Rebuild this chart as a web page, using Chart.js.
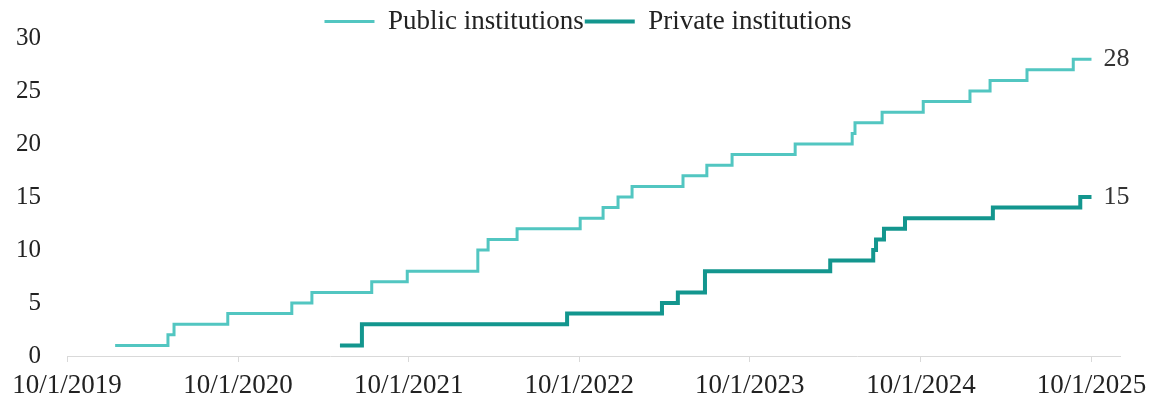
<!DOCTYPE html>
<html>
<head>
<meta charset="utf-8">
<script src="https://cdn.jsdelivr.net/npm/chart.js@4/dist/chart.umd.min.js"></script>
<style>
    html, body { margin: 0; padding: 0; background: #fff; }
    #wrap { width: 1153px; height: 402px; }
</style>
</head>
<body>
<div id="wrap"><canvas id="institutionsChart" width="1153" height="402"></canvas></div>
<script>
// Cumulative counts: each date is when the count steps up to the matching value
const publicDates = ['2020-01-12', '2020-05-04', '2020-05-17', '2020-09-09', '2021-01-24', '2021-03-08',
    '2021-07-14', '2021-09-28', '2022-02-26', '2022-03-20', '2022-05-21', '2022-10-03', '2022-11-21',
    '2022-12-23', '2023-01-22', '2023-05-11', '2023-07-01', '2023-08-24', '2024-01-06', '2024-05-07',
    '2024-05-13', '2024-07-10', '2024-10-06', '2025-01-14', '2025-02-26', '2025-05-16', '2025-08-23',
    '2025-10-01'];
const publicCounts = [1, 2, 3, 4, 5, 6, 7, 8, 10, 11, 12, 13, 14, 15, 16, 17, 18, 19, 20, 21, 22, 23, 24,
    25, 26, 27, 28, 28];

const privateDates = ['2021-05-07', '2021-06-23', '2022-09-05', '2023-03-27', '2023-04-30', '2023-06-27',
    '2024-03-21', '2024-06-21', '2024-06-27', '2024-07-14', '2024-08-28', '2025-03-04', '2025-09-07',
    '2025-10-01'];
const privateCounts = [1, 3, 4, 5, 6, 8, 9, 10, 11, 12, 13, 14, 15, 15];

const tickDates = ['2019-10-01', '2020-10-01', '2021-10-01', '2022-10-01', '2023-10-01', '2024-10-01', '2025-10-01'];
const seriesNames = ['Public institutions', 'Private institutions'];

const FONT = "'Liberation Serif', 'Times New Roman', serif";

function toTime(s) {
    const p = s.split('-').map(Number);
    return Date.UTC(p[0], p[1] - 1, p[2]);
}

function toPoints(dates, counts) {
    return dates.map((d, i) => ({ x: toTime(d), y: counts[i] }));
}

function formatDate(t) {
    const d = new Date(t);
    return (d.getUTCMonth() + 1) + '/' + d.getUTCDate() + '/' + d.getUTCFullYear();
}

// Writes the final value just right of each line's end
const endLabels = {
    id: 'endLabels',
    afterDatasetsDraw(chart) {
        const ctx = chart.ctx;
        ctx.save();
        ctx.font = '26px ' + FONT;
        ctx.fillStyle = '#333';
        ctx.textBaseline = 'middle';
        ctx.textAlign = 'left';
        chart.data.datasets.forEach((ds, i) => {
            const meta = chart.getDatasetMeta(i);
            const last = meta.data[meta.data.length - 1];
            const value = ds.data[ds.data.length - 1].y;
            ctx.fillText(String(value), last.x + 12, last.y);
        });
        ctx.restore();
    }
};

// Nudges the legend a little right and down once the layout is done
const legendOffset = {
    id: 'legendOffset',
    afterUpdate(chart) {
        const legend = chart.legend;
        if (!legend) return;
        legend.left += 28;
        legend.right += 28;
        legend.top += 7;
        legend.bottom += 7;
    }
};

document.addEventListener('DOMContentLoaded', function() {
    const ctx = document.getElementById('institutionsChart').getContext('2d');
    new Chart(ctx, {
        type: 'line',
        data: {
            datasets: [{
                label: seriesNames[0],
                data: toPoints(publicDates, publicCounts),
                borderColor: '#52c6c1',
                backgroundColor: '#52c6c1',
                borderWidth: 3,
                stepped: 'before',
                pointRadius: 0,
                fill: false
            }, {
                label: seriesNames[1],
                data: toPoints(privateDates, privateCounts),
                borderColor: '#13968e',
                backgroundColor: '#13968e',
                borderWidth: 4,
                stepped: 'before',
                pointRadius: 0,
                fill: false
            }]
        },
        options: {
            responsive: false,
            animation: false,
            layout: {
                padding: { left: 0, right: 33, top: 0, bottom: 0 }
            },
            scales: {
                x: {
                    type: 'linear',
                    min: toTime('2019-10-01'),
                    max: toTime('2025-12-01'),
                    afterBuildTicks: function(scale) {
                        scale.ticks = tickDates.map(d => ({ value: toTime(d) }));
                    },
                    afterFit: function(scale) {
                        scale.height = 46;
                        scale.paddingLeft = 0;
                        scale.paddingRight = 0;
                    },
                    grid: {
                        drawOnChartArea: false,
                        drawTicks: true,
                        tickLength: 6,
                        color: '#d9d9d9'
                    },
                    border: {
                        color: '#d9d9d9',
                        width: 1
                    },
                    ticks: {
                        autoSkip: false,
                        maxRotation: 0,
                        padding: 8,
                        color: '#222',
                        font: { family: FONT, size: 27 },
                        callback: value => formatDate(value)
                    }
                },
                y: {
                    min: 0,
                    max: 30,
                    afterFit: function(scale) {
                        scale.width = 67;
                    },
                    grid: {
                        display: false
                    },
                    border: {
                        display: false
                    },
                    ticks: {
                        stepSize: 5,
                        padding: 18,
                        color: '#222',
                        font: { family: FONT, size: 25 }
                    }
                }
            },
            plugins: {
                legend: {
                    display: true,
                    position: 'top',
                    labels: {
                        usePointStyle: true,
                        pointStyle: 'line',
                        pointStyleWidth: 50,
                        padding: 1,
                        color: '#222',
                        font: { family: FONT, size: 27 }
                    }
                },
                tooltip: {
                    enabled: false
                }
            }
        },
        plugins: [endLabels, legendOffset]
    });
});
</script>
</body>
</html>
